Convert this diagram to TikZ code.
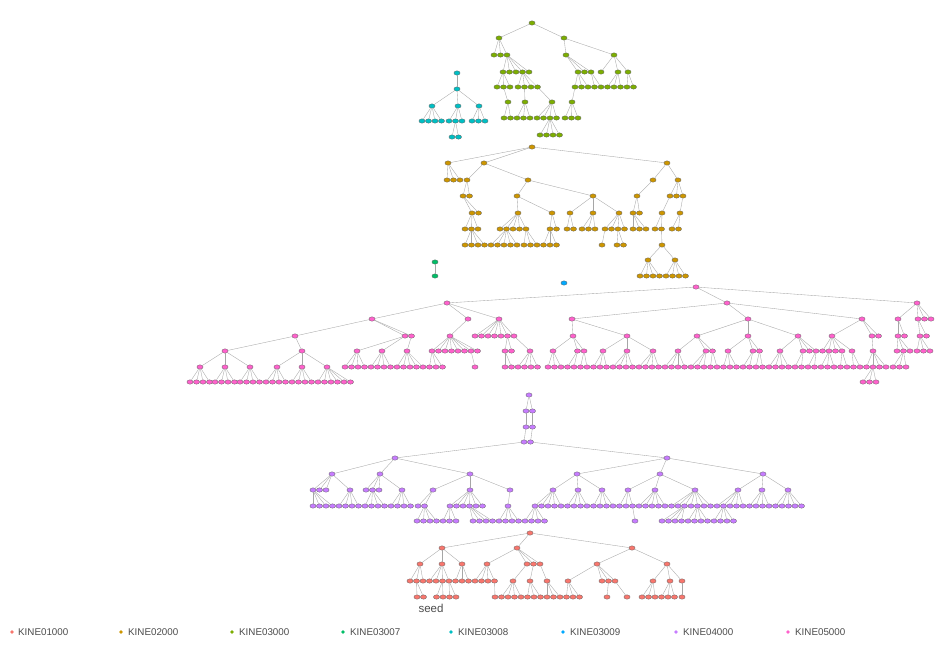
\documentclass[tikz,border=0pt]{standalone}
\usepackage{fontspec}
\setmainfont{Liberation Sans}
\usetikzlibrary{shapes.geometric}
\definecolor{cA}{HTML}{F8766D}
\definecolor{cB}{HTML}{CD9600}
\definecolor{cC}{HTML}{7CAE00}
\definecolor{cD}{HTML}{00BE67}
\definecolor{cE}{HTML}{00BFC4}
\definecolor{cF}{HTML}{00A9FF}
\definecolor{cG}{HTML}{C77CFF}
\definecolor{cH}{HTML}{FF61CC}
\colorlet{cur}{cA}
\tikzset{
  nd/.style={ellipse,draw=black!60,line width=0.3pt,fill=cur,minimum width=6.2pt,minimum height=4.4pt,inner sep=0pt},
  ed/.style={draw=black!35,line width=0.35pt},
  legdot/.style={circle,inner sep=0pt,minimum size=3.8pt},
  legtxt/.style={anchor=west,inner sep=0pt,text=black!70,font=\fontsize{9.8}{11}\selectfont}
}
\newcommand\Rt[3]{\node[nd] (#1) at (#2,#3) {};}
\newcommand\Nd[4]{\node[nd] (#1) at (#3,#4) {}; \draw[ed] (#2) -- (#1);}
\newcommand\Rw[5]{\foreach \k in {1,...,#5}{\node[nd] (#2-\k) at ({#3+6.5*(\k-1)},#4) {}; \draw[ed] (#1) -- (#2-\k);}}
\begin{document}
\begin{tikzpicture}[x=1pt,y=-1pt]
\fill[white] (0,0) rectangle (937,646);
\useasboundingbox (0,0) rectangle (937,646);
% ---------- KINE03000 (green)
\colorlet{cur}{cC}
\Rt{g}{532}{23}
\Nd{ga}{g}{499}{38}
\Nd{gb}{g}{564}{38}
\Rw{ga}{gA}{494}{55}{3}
\Rw{gA-3}{gC}{503}{72}{5}
\Rw{gC-1}{gD}{497}{87}{3}
\Rw{gC-4}{gE}{518}{87}{4}
\Nd{gb1}{gb}{566}{55}
\Nd{gb2}{gb}{614}{55}
\Rw{gb1}{gL}{578}{72}{3}
\Nd{gm1}{gb2}{601}{72}
\Nd{gm2}{gb2}{618}{72}
\Nd{gm3}{gb2}{628}{72}
\Rw{gL-1}{gN}{575}{87}{3}
\Rw{gL-3}{gO}{594.5}{87}{2}
\Rw{gm2}{gQ}{607.5}{87}{3}
\Rw{gm3}{gR}{627}{87}{2}
\Nd{gF1}{gD-2}{508}{102}
\Nd{gF2}{gE-2}{525}{102}
\Nd{gF3}{gE-4}{552}{102}
\Nd{gF4}{gN-1}{572}{102}
\Rw{gF1}{gG}{504}{118}{2}
\Rw{gF2}{gH}{517}{118}{3}
\Rw{gF3}{gI}{537}{118}{4}
\Rw{gF4}{gJ}{565}{118}{3}
\Rw{gI-3}{gK}{540}{135}{4}
% ---------- KINE03008 (cyan)
\colorlet{cur}{cE}
\Rt{c}{457}{73}
\Nd{c1}{c}{457}{89}
\Nd{c2}{c1}{432}{106}
\Nd{c3}{c1}{458}{106}
\Nd{c4}{c1}{479}{106}
\Rw{c2}{cX}{422}{121}{4}
\Rw{c3}{cY}{449}{121}{3}
\Rw{c4}{cZ}{472}{121}{3}
\Rw{cY-2}{cW}{452}{137}{2}
% ---------- KINE02000 (orange)
\colorlet{cur}{cB}
\Rt{o}{532}{147}
\Nd{o1}{o}{448}{163}
\Nd{o2}{o}{484}{163}
\Nd{o3}{o}{667}{163}
\Rw{o1}{oa}{447}{180}{3}
\Nd{ob}{o2}{467}{180}
\Nd{oc}{o2}{528}{180}
\Rw{ob}{od}{463}{196}{2}
\Nd{oe}{oc}{517}{196}
\Nd{of}{oc}{593}{196}
\Nd{og}{o3}{653}{180}
\Nd{oh}{o3}{678}{180}
\Nd{oi}{og}{637}{196}
\Rw{oh}{oj}{670}{196}{3}
\Rw{od-1}{ok}{472}{213}{2}
\Nd{ol}{oe}{518}{213}
\Nd{om}{oe}{552}{213}
\Nd{on}{of}{570}{213}
\Nd{oo}{of}{593}{213}
\Nd{op}{of}{619}{213}
\Rw{oi}{oq}{633}{213}{2}
\Nd{or}{oj-1}{662}{213}
\Nd{os}{oj-3}{680}{213}
\Rw{ok-1}{ot}{465}{229}{3}
\Rw{ol}{ou}{500}{229}{5}
\Rw{om}{ov}{550}{229}{2}
\Rw{on}{ow}{567}{229}{2}
\Rw{oo}{ox}{582}{229}{3}
\Rw{op}{oy}{605}{229}{4}
\Rw{oq-1}{oz}{633}{229}{3}
\Rw{or}{oZ}{655}{229}{2}
\Rw{os}{oA}{672}{229}{2}
\Rw{ot-2}{oB}{465}{245}{4}
\Rw{ou-2}{oC}{491}{245}{5}
\Rw{ou-5}{oD}{524}{245}{3}
\Rw{ov-1}{oE}{543.5}{245}{3}
\Nd{oF}{oy-1}{602}{245}
\Rw{oy-3}{oG}{617}{245}{2}
\Nd{oH}{oZ-2}{662}{245}
\Nd{oI}{oH}{648}{260}
\Nd{oJ}{oH}{675}{260}
\Rw{oI}{oK}{640}{276}{4}
\Rw{oJ}{oL}{666}{276}{4}
% ---------- KINE03007 (teal) and KINE03009 (blue)
\colorlet{cur}{cD}
\Rt{t}{435}{262}
\Nd{t1}{t}{435}{276}
\colorlet{cur}{cF}
\Rt{bl}{564}{283}
% ---------- KINE05000 (magenta)
\colorlet{cur}{cH}
\Rt{m}{696}{287}
\Nd{mA}{m}{447}{303}
\Nd{mB}{m}{727}{303}
\Nd{mC}{m}{917}{303}
\Nd{mA1}{mA}{372}{319}
\Nd{mA2}{mA}{468}{319}
\Nd{mA3}{mA}{499}{319}
\Nd{mA11}{mA1}{295}{336}
\Rw{mA1}{mA12}{405}{336}{2}
\Nd{mA21}{mA2}{450}{336}
\Rw{mA3}{mA31}{475}{336}{7}
\Nd{mq1}{mA11}{225}{351}
\Nd{mq2}{mA11}{302}{351}
\Nd{mq3}{mA12-1}{357}{351}
\Nd{mq4}{mA12-1}{382}{351}
\Nd{mq5}{mA12-2}{407}{351}
\Rw{mA21}{mq6}{432}{351}{8}
\Rw{mA31-6}{mq7}{505}{351}{2}
\Nd{mq8}{mA31-7}{530}{351}
\Nd{mr1}{mq1}{200}{367}
\Nd{mr2}{mq1}{225}{367}
\Nd{mr3}{mq1}{250}{367}
\Nd{mr4}{mq2}{277}{367}
\Nd{mr5}{mq2}{302}{367}
\Nd{mr6}{mq2}{327}{367}
\Rw{mr1}{ms1}{190}{382}{4}
\Rw{mr2}{ms2}{215}{382}{4}
\Rw{mr3}{ms3}{240}{382}{4}
\Rw{mr4}{ms4}{266}{382}{4}
\Rw{mr5}{ms5}{292}{382}{4}
\Rw{mr6}{ms6}{318}{382}{6}
\Rw{mq3}{mr7}{345}{367}{4}
\Rw{mq4}{mr8}{371}{367}{4}
\Rw{mq5}{mr9}{397}{367}{5}
\Rw{mq6-1}{mr10}{429.5}{367}{3}
\Nd{mr11}{mq6-7}{475}{367}
\Rw{mq7-1}{mr12}{505}{367}{2}
\Rw{mq8}{mr13}{518}{367}{4}
\Nd{mB1}{mB}{572}{319}
\Nd{mB2}{mB}{748}{319}
\Nd{mB3}{mB}{862}{319}
\Nd{mB11}{mB1}{573}{336}
\Nd{mB12}{mB1}{627}{336}
\Nd{mB21}{mB2}{697}{336}
\Nd{mB22}{mB2}{748}{336}
\Nd{mB23}{mB2}{798}{336}
\Nd{mB31}{mB3}{832}{336}
\Rw{mB3}{mB32}{872}{336}{2}
\Nd{mC1}{mC}{898}{319}
\Rw{mC}{mC2}{918}{319}{3}
\Rw{mC1}{mC3}{898}{336}{2}
\Rw{mC2-1}{mC4}{920}{336}{2}
\Rw{mC3-1}{mC5}{897}{351}{3}
\Rw{mC4-1}{mC6}{917}{351}{3}
\Nd{mt1}{mB11}{553}{351}
\Rw{mB11}{mt2}{577.5}{351}{2}
\Nd{mt3}{mB12}{603}{351}
\Nd{mt4}{mB12}{627}{351}
\Nd{mt5}{mB12}{653}{351}
\Nd{mt6}{mB21}{678}{351}
\Rw{mB21}{mt7}{706}{351}{2}
\Nd{mt8}{mB22}{728}{351}
\Rw{mB22}{mt9}{753}{351}{2}
\Nd{mt10}{mB23}{780}{351}
\Rw{mB23}{mt11}{803}{351}{3}
\Rw{mB31}{mt12}{822.5}{351}{4}
\Nd{mt13}{mB31}{852}{351}
\Nd{mt14}{mB32-1}{873}{351}
\Rw{mt1}{mu1}{548}{367}{3}
\Rw{mt2-1}{mu2}{567.5}{367}{2}
\Rw{mt2-2}{mu3}{580.5}{367}{2}
\Rw{mt3}{mu4}{593.5}{367}{3}
\Rw{mt4}{mu5}{613}{367}{4}
\Rw{mt5}{mu6}{639}{367}{4}
\Rw{mt6}{mu7}{665}{367}{4}
\Rw{mt7-1}{mu8}{691}{367}{3}
\Rw{mt7-2}{mu9}{710.5}{367}{2}
\Rw{mt8}{mu10}{723.5}{367}{3}
\Rw{mt9-1}{mu11}{743}{367}{2}
\Rw{mt9-2}{mu12}{756}{367}{2}
\Rw{mt10}{mu13}{769}{367}{4}
\Rw{mt11-1}{mu14}{795}{367}{2}
\Rw{mt11-3}{mu15}{808}{367}{2}
\Rw{mt12-2}{mu16}{821}{367}{3}
\Rw{mt12-4}{mu17}{840.5}{367}{2}
\Rw{mt13}{mu18}{853.5}{367}{2}
\Rw{mt14}{mu19}{866.5}{367}{4}
\Rw{mC5-2}{mu20}{893}{367}{3}
\Rw{mu19-2}{mv}{863}{382}{3}
% ---------- KINE04000 (purple)
\colorlet{cur}{cG}
\Rt{p}{529}{395}
\Rw{p}{pq}{526}{411}{2}
\Nd{pr1}{pq-1}{526}{427}
\Nd{pr2}{pq-2}{532.5}{427}
\Nd{ps1}{pr1}{524}{442}
\Nd{ps2}{pr2}{530.5}{442}
\Nd{pa}{ps1}{395}{458}
\Nd{pb}{ps2}{667}{458}
\Nd{pa1}{pa}{332}{474}
\Nd{pa2}{pa}{380}{474}
\Nd{pa3}{pa}{470}{474}
\Nd{pb1}{pb}{577}{474}
\Nd{pb2}{pb}{660}{474}
\Nd{pb3}{pb}{763}{474}
\Rw{pa1}{pc1}{313}{490}{3}
\Nd{pc2}{pa1}{350}{490}
\Rw{pa2}{pc3}{366}{490}{3}
\Nd{pc4}{pa2}{402}{490}
\Nd{pc5}{pa3}{433}{490}
\Nd{pc6}{pa3}{470}{490}
\Nd{pc7}{pa3}{510}{490}
\Nd{pc8}{pb1}{553}{490}
\Nd{pc9}{pb1}{578}{490}
\Nd{pc10}{pb1}{602}{490}
\Nd{pc11}{pb2}{628}{490}
\Nd{pc12}{pb2}{655}{490}
\Nd{pc13}{pb2}{695}{490}
\Nd{pc14}{pb3}{738}{490}
\Nd{pc15}{pb3}{762}{490}
\Nd{pc16}{pb3}{788}{490}
\Rw{pc1-1}{pd1}{313}{506}{4}
\Rw{pc2}{pd2}{339}{506}{4}
\Rw{pc3-2}{pd3}{365}{506}{4}
\Rw{pc4}{pd4}{391}{506}{4}
\Rw{pc5}{pd5}{418}{506}{2}
\Rw{pc6}{pd6}{450}{506}{6}
\Nd{pd7}{pc7}{508}{506}
\Rw{pc8}{pd8}{535}{506}{5}
\Rw{pc9}{pd9}{567.5}{506}{4}
\Rw{pc10}{pd10}{593.5}{506}{4}
\Rw{pc11}{pd11}{619.5}{506}{3}
\Rw{pc12}{pd12}{639}{506}{5}
\Rw{pc13}{pd13}{671.5}{506}{7}
\Rw{pc14}{pd14}{717}{506}{5}
\Rw{pc15}{pd15}{749.5}{506}{4}
\Rw{pc16}{pd16}{775.5}{506}{5}
\Rw{pd5-2}{pe1}{417}{521}{4}
\Rw{pd6-1}{pe2}{443}{521}{3}
\Rw{pd6-4}{pe3}{473}{521}{4}
\Rw{pd7}{pe4}{499}{521}{4}
\Rw{pd8-1}{pe5}{525}{521}{4}
\Nd{pe6}{pd11-3}{635}{521}
\Rw{pd13-3}{pe7}{662}{521}{4}
\Rw{pd13-5}{pe8}{688}{521}{4}
\Rw{pd14-2}{pe9}{714}{521}{4}
% ---------- KINE01000 (red)
\colorlet{cur}{cA}
\Rt{r}{530}{533}
\Nd{r1}{r}{442}{548}
\Nd{r2}{r}{517}{548}
\Nd{r3}{r}{632}{548}
\Nd{r11}{r1}{420}{564}
\Nd{r12}{r1}{442}{564}
\Nd{r13}{r1}{462}{564}
\Nd{r21}{r2}{487}{564}
\Rw{r2}{r22}{527}{564}{3}
\Nd{r31}{r3}{597}{564}
\Nd{r32}{r3}{667}{564}
\Rw{r11}{ra1}{410}{581}{3}
\Rw{r12}{ra2}{429.5}{581}{4}
\Rw{r13}{ra3}{455.5}{581}{3}
\Rw{r21}{ra4}{475}{581}{4}
\Nd{ra5}{r22-1}{513}{581}
\Nd{ra6}{r22-2}{530}{581}
\Nd{ra7}{r22-3}{547}{581}
\Nd{ra8}{r31}{568}{581}
\Rw{r31}{ra9}{602}{581}{3}
\Nd{ra10}{r32}{653}{581}
\Nd{ra11}{r32}{670}{581}
\Nd{ra12}{r32}{682}{581}
\Rw{ra1-2}{rb1}{417}{597}{2}
\Rw{ra2-3}{rb2}{436.5}{597}{2}
\Rw{ra2-4}{rb3}{449.5}{597}{2}
\Nd{rb4}{ra4-4}{495}{597}
\Rw{ra5}{rb5}{501.5}{597}{4}
\Rw{ra6}{rb6}{527.5}{597}{3}
\Rw{ra7}{rb7}{547}{597}{3}
\Rw{ra8}{rb8}{566.5}{597}{3}
\Nd{rb9}{ra9-2}{607}{597}
\Nd{rb10}{ra9-3}{627}{597}
\Rw{ra10}{rb11}{642}{597}{3}
\Rw{ra11}{rb12}{661.5}{597}{3}
\Nd{rb13}{ra12}{682}{597}
\node[text=black!70,font=\fontsize{11.5}{13}\selectfont] (seed) at (431,608) {seed};
% ---------- legend
\node[legdot,fill=cA] (d1) at (12,632) {};  \node[legtxt] (t1x) at (18,632) {KINE01000};
\node[legdot,fill=cB] (d2) at (121,632) {}; \node[legtxt] (t2x) at (128,632) {KINE02000};
\node[legdot,fill=cC] (d3) at (232,632) {}; \node[legtxt] (t3x) at (239,632) {KINE03000};
\node[legdot,fill=cD] (d4) at (343,632) {}; \node[legtxt] (t4x) at (350,632) {KINE03007};
\node[legdot,fill=cE] (d5) at (451,632) {}; \node[legtxt] (t5x) at (458,632) {KINE03008};
\node[legdot,fill=cF] (d6) at (563,632) {}; \node[legtxt] (t6x) at (570,632) {KINE03009};
\node[legdot,fill=cG] (d7) at (676,632) {}; \node[legtxt] (t7x) at (683,632) {KINE04000};
\node[legdot,fill=cH] (d8) at (788,632) {}; \node[legtxt] (t8x) at (795,632) {KINE05000};
\end{tikzpicture}
\end{document}
